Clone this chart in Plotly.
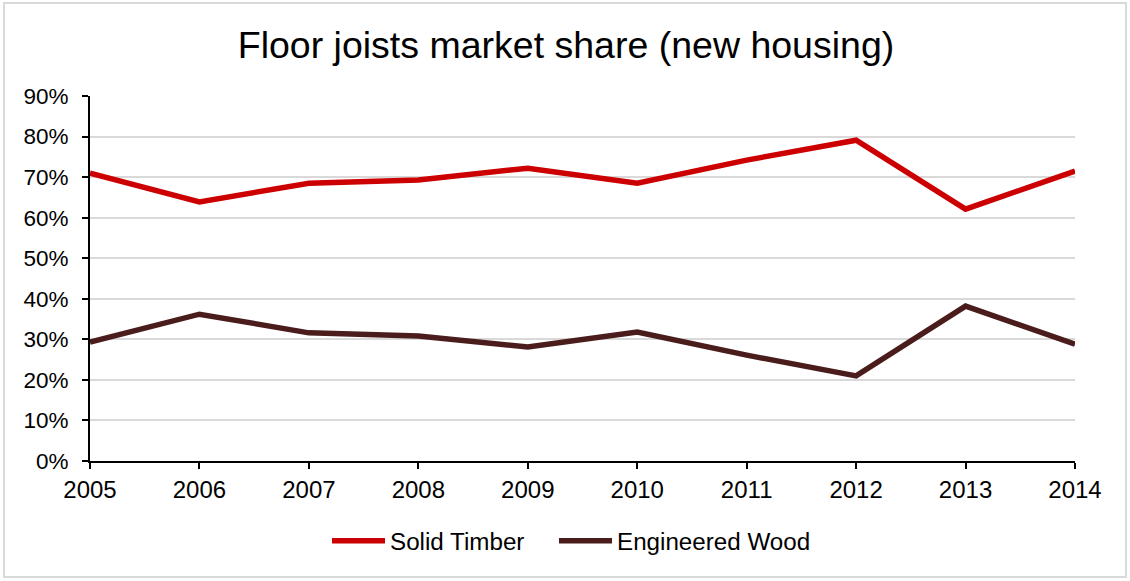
import plotly.graph_objects as go

years = [2005, 2006, 2007, 2008, 2009, 2010, 2011, 2012, 2013, 2014]
solid_timber = [0.710, 0.639, 0.685, 0.693, 0.722, 0.685, 0.742, 0.791, 0.621, 0.715]
engineered_wood = [0.293, 0.362, 0.316, 0.308, 0.281, 0.318, 0.261, 0.210, 0.382, 0.288]
y_ticks = [i / 10 for i in range(10)]

FONT = "Liberation Sans, Arial, sans-serif"
W, H = 1130, 581
# plot area in px
L, R, T, B = 90, 1075, 96, 461

fig = go.Figure()
fig.add_trace(go.Scatter(x=years, y=solid_timber, mode="lines", name="Solid Timber",
                         line=dict(color="#CC0000", width=5.5), legend="legend"))
fig.add_trace(go.Scatter(x=years, y=engineered_wood, mode="lines", name="Engineered Wood",
                         line=dict(color="#4A1C1C", width=5.5), legend="legend2"))

pw, ph = R - L, B - T
# light grey frame around the whole chart
fig.add_shape(type="rect", xref="paper", yref="paper",
              x0=(4 - L) / pw, x1=(1126 - L) / pw,
              y0=(B - 577) / ph, y1=(B - 3) / ph,
              line=dict(color="#D9D9D9", width=2), layer="below")


def legend_at(px_left):
    return dict(orientation="h", x=(px_left - L) / pw, xanchor="left",
                y=(B - 541) / ph, yanchor="middle", font=dict(size=24.2),
                itemwidth=53, bgcolor="rgba(0,0,0,0)")


fig.update_layout(
    width=W, height=H,
    margin=dict(l=L, r=W - R, t=T, b=H - B),
    paper_bgcolor="white", plot_bgcolor="white",
    font=dict(family=FONT, size=23, color="black"),
    title=dict(text="Floor joists market share (new housing)", x=566 / W, xanchor="center",
               y=1 - 45 / H, yanchor="middle", font=dict(size=37.5, family=FONT)),
    legend=legend_at(327),
    legend2=legend_at(554),
    showlegend=True,
)
fig.update_xaxes(range=[2005, 2014], tickvals=years, showgrid=False, zeroline=False,
                 showline=True, linecolor="black", linewidth=2,
                 ticks="outside", ticklen=6, tickcolor="black", tickwidth=2,
                 tickfont=dict(size=24))
fig.update_yaxes(range=[0, 0.9], tickvals=y_ticks, tickformat=".0%",
                 showgrid=True, gridcolor="#D9D9D9", gridwidth=2, zeroline=False,
                 showline=True, linecolor="black", linewidth=2,
                 ticks="outside", ticklen=6, tickcolor="black", tickwidth=2,
                 ticklabelstandoff=9, tickfont=dict(size=22.5))

fig.write_html("out.html", config={"displayModeBar": False},
               post_script="document.body.style.margin='0';")
